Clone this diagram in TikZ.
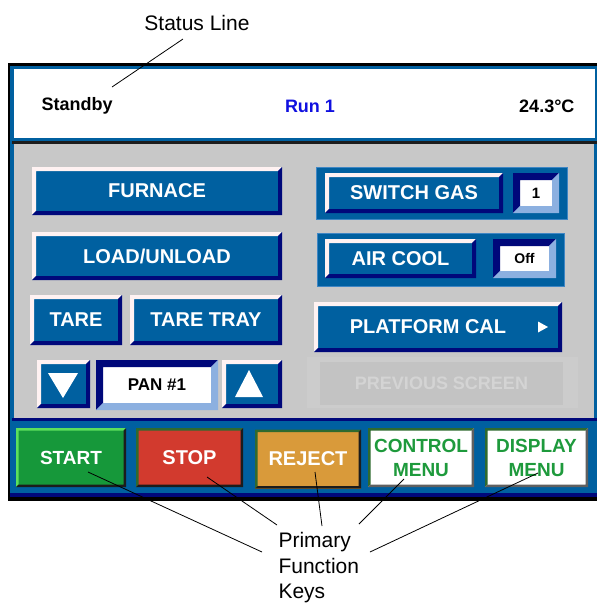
\documentclass[tikz,border=0pt]{standalone}
\usepackage{fontspec}
\setmainfont{Liberation Sans}
\usetikzlibrary{positioning}

\definecolor{scrblue}{HTML}{0060A0}
\definecolor{navy}{HTML}{00087A}
\definecolor{hilite}{HTML}{FFF2F2}
\definecolor{sunklite}{HTML}{8CB0E0}
\definecolor{grpedge}{HTML}{3F86C4}
\definecolor{panelgray}{HTML}{C8C8C8}
\definecolor{prevout}{HTML}{CCCCCC}
\definecolor{previn}{HTML}{C3C3C3}
\definecolor{prevtxt}{HTML}{D4D4D4}
\definecolor{runblue}{HTML}{1010E0}
\definecolor{startgreen}{HTML}{16983A}
\definecolor{startlite}{HTML}{5CE05C}
\definecolor{stopred}{HTML}{D23A2E}
\definecolor{rejorange}{HTML}{D99A3A}
\definecolor{menugreen}{HTML}{1E9A3C}
\definecolor{keyedge}{HTML}{2F6A2F}
\definecolor{keydark}{HTML}{1C1C1C}

\tikzset{
	bev/.style n args={3}{path picture={
		\fill[#1] (path picture bounding box.south west) -- (path picture bounding box.north west) -- (path picture bounding box.north east) -- ([xshift=-#3,yshift=-#3]path picture bounding box.north east) -- ([xshift=#3,yshift=-#3]path picture bounding box.north west) -- ([xshift=#3,yshift=#3]path picture bounding box.south west) -- cycle;
		\fill[#2] (path picture bounding box.south west) -- (path picture bounding box.south east) -- (path picture bounding box.north east) -- ([xshift=-#3,yshift=-#3]path picture bounding box.north east) -- ([xshift=-#3,yshift=#3]path picture bounding box.south east) -- ([xshift=#3,yshift=#3]path picture bounding box.south west) -- cycle;
	}},
	sz/.style 2 args={minimum width=#1pt, minimum height=#2pt},
	keybtn/.style={rectangle, fill=scrblue, text=white, inner sep=0pt, font=\bfseries\fontsize{20}{22}\selectfont, bev={hilite}{navy}{4pt}},
	sunkbox/.style={rectangle, fill=white, text=black, inner sep=0pt, font=\bfseries\fontsize{17}{19}\selectfont, bev={navy}{sunklite}{7pt}},
	grpbox/.style={rectangle, fill=scrblue, draw=grpedge, line width=1pt, inner sep=0pt},
	fkey/.style n args={3}{rectangle, fill=#1, inner sep=0pt, align=center, font=\bfseries\fontsize{19}{24}\selectfont, bev={#2}{#3}{2.5pt}},
	stattxt/.style={font=\bfseries\fontsize{18}{20}\selectfont},
	annot/.style={font=\fontsize{21}{25.5}\selectfont, align=left},
	callout/.style={draw=black, line width=0.8pt}
}

\begin{document}
\begin{tikzpicture}[x=1pt,y=-1pt]
	\useasboundingbox (0,0) rectangle (597,603);
	% screen frame
	\fill[black] (8,63) rectangle (597,501);
	\fill[scrblue] (10,66) rectangle (597,496);
	\fill[white] (14,69) rectangle (595,138);
	\fill[keydark] (12,141) rectangle (597,144);
	\fill[panelgray] (14,144) rectangle (594,418);
	\fill[navy] (12,418) rectangle (597,421);
	\fill[navy] (10,493) rectangle (597,497);

	% status line
	\node[stattxt, anchor=west] (standby) at (38,106) {Standby};
	\node[stattxt, text=runblue] (run) at (310,106) {Run 1};
	\node[stattxt, anchor=east] (temp) at (578,106) {24.3°C};

	% left column
	\node[keybtn, sz={250}{48}] (furnace) at (157,191) {FURNACE};
	\node[keybtn, sz={250}{48}] (loadunload) at (157,256) {LOAD/UNLOAD};
	\node[keybtn, sz={92}{50}] (tare) at (76,320) {TARE};
	\node[keybtn, sz={152}{50}] (taretray) at (206,320) {TARE TRAY};
	\node[keybtn, sz={53}{48}] (down) at (63.5,384) {};
	\node[sunkbox, sz={122}{50}] (pan) at (157,385) {PAN \#1};
	\node[keybtn, sz={60}{48}] (up) at (252,384) {};
	\fill[white] ([shift={(-15.5,-11)}]down.center) -- ([shift={(14.5,-11)}]down.center) -- ([shift={(-0.5,14)}]down.center) -- cycle;
	\fill[white] ([shift={(-17,13)}]up.center) -- ([shift={(11,13)}]up.center) -- ([shift={(-3,-14)}]up.center) -- cycle;

	% right column
	\node[grpbox, sz={251}{52}] (gasgrp) at (441.5,193) {};
	\node[keybtn, sz={178}{40}] (switchgas) at (414,193) {SWITCH GAS};
	\node[sunkbox, sz={46}{40}, font=\bfseries\fontsize{15}{17}\selectfont] (gasval) at (536,193) {1};
	\node[grpbox, sz={247}{53}] (coolgrp) at (440.5,259.5) {};
	\node[keybtn, sz={151}{39}] (aircool) at (400.5,258.5) {AIR COOL};
	\node[sunkbox, sz={63}{39}, font=\bfseries\fontsize{14}{16}\selectfont] (coolval) at (524.5,258.5) {Off};
	\node[keybtn, sz={248}{50}] (platcal) at (438,327) {PLATFORM CAL\hspace*{20pt}};
	\fill[white] ([shift={(100,-5.5)}]platcal.center) -- ([shift={(100,5.5)}]platcal.center) -- ([shift={(110,0)}]platcal.center) -- cycle;
	\node[rectangle, fill=prevout, sz={271}{51}] (prevgrp) at (442.5,382.5) {};
	\node[rectangle, fill=previn, sz={243}{43}, text=prevtxt, font=\bfseries\fontsize{18}{20}\selectfont] (prevscr) at (441.5,383.5) {PREVIOUS SCREEN};

	% primary function keys
	\node[fkey={startgreen}{startlite}{keydark}, sz={110}{59}, text=white] (start) at (71,457.5) {START};
	\node[fkey={stopred}{keyedge}{keydark}, sz={107}{59}, text=white, font=\bfseries\fontsize{20}{24}\selectfont] (stop) at (189.5,457.5) {STOP};
	\node[fkey={rejorange}{keyedge}{keydark}, sz={106}{59}, text=white, font=\bfseries\fontsize{20}{24}\selectfont] (reject) at (308,459) {REJECT};
	\node[fkey={white}{keyedge}{keydark!70}, sz={106}{59}, text=menugreen] (ctrlmenu) at (421,457.5) {CONTROL\\MENU};
	\node[fkey={white}{keyedge}{keydark!70}, sz={103}{59}, text=menugreen] (dispmenu) at (536.5,457.5) {DISPLAY\\MENU};

	% callouts
	\node[annot] (statlbl) at (197,23) {Status Line};
	\node[annot, anchor=north west] (pfk) at (275,529) {Primary\\Function\\Keys};
	\coordinate (stend) at (112,87);
	\coordinate (k1) at (262,552);
	\coordinate (k2) at (277,525);
	\coordinate (k3) at (322,526);
	\coordinate (k4) at (359,524);
	\coordinate (k5) at (370,552);
	\path[callout]
		([shift={(-14,16)}]statlbl.center) edge (stend)
		([shift={(17,14.5)}]start.center) edge (k1)
		([shift={(17.5,19.5)}]stop.center) edge (k2)
		([shift={(7,13)}]reject.center) edge (k3)
		([shift={(-17,21.5)}]ctrlmenu.center) edge (k4)
		([shift={(1.5,15.5)}]dispmenu.center) edge (k5);
\end{tikzpicture}
\end{document}
